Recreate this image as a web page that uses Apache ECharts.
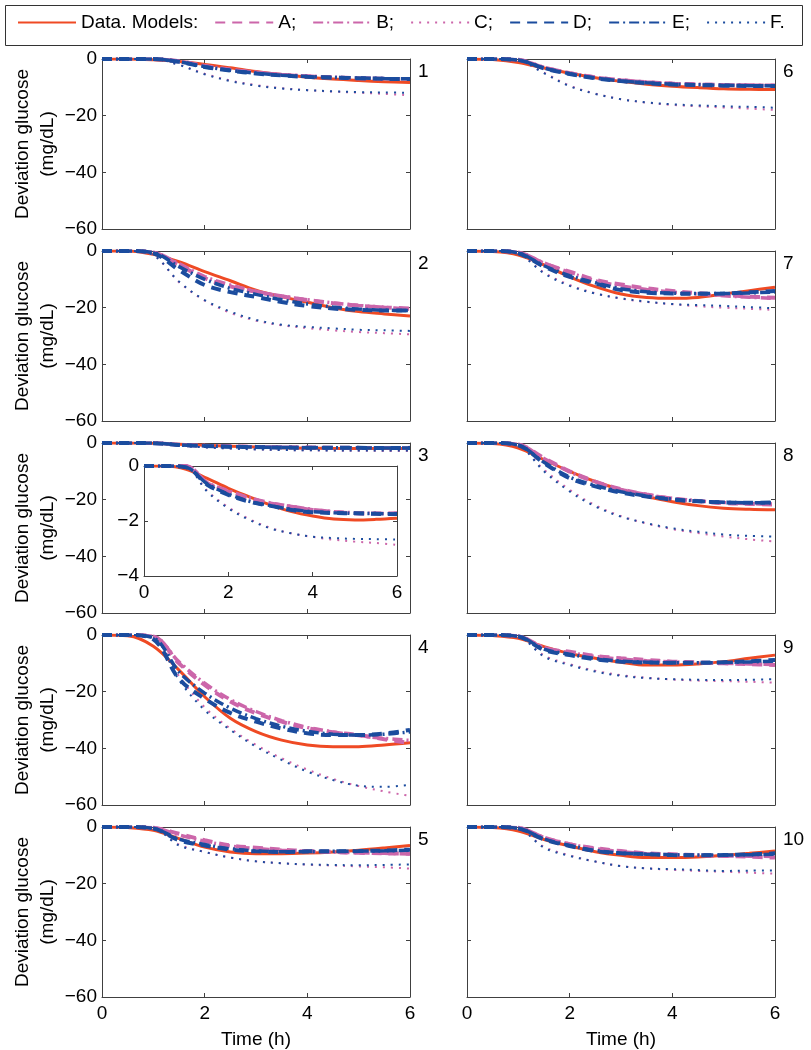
<!DOCTYPE html>
<html>
<head>
<meta charset="utf-8">
<script src="https://cdn.jsdelivr.net/npm/echarts@6/dist/echarts.min.js"></script>
<style>
  html, body { margin: 0; padding: 0; background: #fff; }
  #chart { width: 811px; height: 1050px; }
</style>
</head>
<body>
<div id="chart"></div>
<script>
// time samples (h)
const timeH = [0, 0.5, 1, 1.5, 2, 2.5, 3, 3.5, 4, 4.5, 5, 5.5, 6];

// glucose deviation (mg/dL), one row per panel 1..10
const dataCurves = [
  [0, 0, -0.3, -0.9, -1.9, -3.1, -4.4, -5.5, -6.4, -7.1, -7.6, -8, -8.3],
  [0, 0, -1.2, -3.8, -7.3, -10.5, -13.8, -16.1, -18.1, -20, -21.4, -22.2, -22.9],
  [0, 0, -0.12, -0.45, -0.81, -1.12, -1.42, -1.66, -1.82, -1.93, -1.96, -1.94, -1.9],
  [0, -0.3, -4, -12.4, -21.8, -29.4, -34.1, -37.1, -38.8, -39.4, -39.4, -38.8, -38],
  [0, -0.2, -1.2, -4.1, -7.1, -8.8, -9.4, -9.4, -9.2, -8.8, -8.2, -7.4, -6.5],
  [0, -0.2, -1.2, -3.2, -5, -6.6, -7.9, -8.9, -9.6, -10.1, -10.5, -10.7, -10.8],
  [0, -0.2, -1.4, -4.9, -9.1, -12.6, -15.2, -16.4, -16.7, -16.4, -15.2, -14, -12.8],
  [0, -0.2, -1.8, -5.9, -10, -13.6, -16.5, -18.9, -20.7, -22.1, -23, -23.4, -23.6],
  [0, -0.2, -1.2, -4.1, -6.5, -8.2, -9.6, -10.6, -10.6, -10.2, -9.4, -8.2, -7.1],
  [0, -0.2, -1.4, -4.4, -6.7, -8.7, -10, -10.8, -10.8, -10.6, -10, -9.3, -8.5]
];
const modelA = [
  [0, 0, 0, -0.8, -2.5, -3.8, -4.8, -5.6, -6.1, -6.5, -6.8, -7, -7.1],
  [0, 0, -0.5, -4.9, -9.6, -12.5, -14.4, -16, -17.3, -18.4, -19.3, -19.9, -20.3],
  [0, 0, 0, -0.63, -0.93, -1.18, -1.36, -1.48, -1.6, -1.67, -1.72, -1.73, -1.72],
  [0, 0, -0.5, -10, -17.6, -23.5, -27.6, -30.6, -32.9, -34.3, -35.3, -36.8, -38.2],
  [0, 0, -0.3, -2.4, -4.7, -6.5, -7.3, -8, -8.5, -8.8, -9.1, -9.3, -9.4],
  [0, 0, -0.3, -3, -5, -6.5, -7.5, -8.2, -8.7, -9, -9.2, -9.3, -9.4],
  [0, 0, -0.5, -4.4, -7.3, -10.2, -11.8, -13.2, -14.1, -14.9, -15.5, -16.1, -16.5],
  [0, 0, -0.5, -5.3, -10, -13.6, -16.3, -18.2, -19.6, -20.5, -21.2, -21.5, -21.7],
  [0, 0, -0.4, -4.7, -5.9, -7.4, -8.2, -8.8, -9.4, -9.7, -10, -10.3, -10.6],
  [0, 0, -0.3, -3.8, -6.1, -7.5, -8.5, -9.3, -9.6, -9.9, -10.2, -10.5, -10.8]
];
const modelB = [
  [0, 0, 0, -0.8, -2.4, -3.7, -4.7, -5.5, -6, -6.4, -6.7, -6.9, -7],
  [0, 0, -0.5, -4.5, -9, -12, -14.2, -15.9, -17.2, -18.3, -19.2, -19.9, -20.5],
  [0, 0, 0, -0.6, -0.9, -1.15, -1.34, -1.47, -1.58, -1.66, -1.7, -1.72, -1.73],
  [0, 0, -0.5, -9.5, -17, -22.8, -27, -30.2, -32.6, -34.2, -35.5, -36.5, -37.2],
  [0, 0, -0.3, -2.8, -5, -6.7, -7.6, -8.2, -8.6, -8.9, -9.1, -9.3, -9.5],
  [0, 0, -0.3, -2.9, -4.9, -6.4, -7.4, -8.1, -8.6, -8.9, -9.1, -9.2, -9.3],
  [0, 0, -0.5, -4.2, -7.6, -10.5, -12.3, -13.6, -14.5, -15.2, -15.8, -16.3, -16.7],
  [0, 0, -0.5, -5.5, -10.2, -13.8, -16.4, -18.2, -19.5, -20.4, -21, -21.4, -21.6],
  [0, 0, -0.4, -4.4, -6.2, -7.6, -8.5, -9.1, -9.5, -9.8, -10, -10.2, -10.4],
  [0, 0, -0.3, -3.6, -6, -7.6, -8.7, -9.4, -9.8, -10, -10.2, -10.3, -10.4]
];
const modelC = [
  [0, 0, 0, -2, -5.2, -7.6, -9.2, -10.3, -11, -11.5, -11.9, -12.3, -12.8],
  [0, 0, -1.5, -11, -17.5, -21.8, -24.6, -26.2, -27.2, -28, -28.6, -29, -29.4],
  [0, 0, -0.05, -0.9, -1.5, -1.93, -2.25, -2.45, -2.58, -2.68, -2.75, -2.8, -2.87],
  [0, 0, -1, -14.5, -25.5, -33, -38.8, -43.5, -47.5, -50.8, -53.3, -55.2, -56.8],
  [0, 0, -0.5, -6.2, -8.8, -10.8, -12.1, -12.8, -13.3, -13.6, -13.9, -14.2, -14.7],
  [0, 0, -0.5, -4.8, -9.4, -12.2, -14.2, -15.4, -16.2, -16.7, -17.1, -17.5, -18],
  [0, 0, -1, -7.6, -12, -14.9, -16.8, -18, -18.8, -19.5, -20, -20.4, -20.8],
  [0, 0, -1, -9.4, -16.5, -22, -25.8, -28.4, -30.4, -31.8, -33, -34, -34.8],
  [0, 0, -0.6, -7.2, -10.3, -12.6, -14.2, -15.1, -15.7, -16.1, -16.3, -16.5, -16.8],
  [0, 0, -0.6, -7, -10, -12.2, -13.8, -14.6, -15.1, -15.5, -15.8, -16.1, -16.5]
];
const modelD = [
  [0, 0, 0, -1, -2.8, -4.1, -5.1, -5.8, -6.3, -6.6, -6.8, -7, -7.1],
  [0, 0, -0.8, -6.7, -12, -14.5, -16.2, -18, -19.4, -20.3, -20.8, -21, -21],
  [0, 0, -0.05, -0.68, -1.05, -1.3, -1.45, -1.6, -1.68, -1.71, -1.72, -1.74, -1.75],
  [0, 0, -1.5, -15.5, -22.5, -27.5, -30.6, -33, -34.7, -35.3, -35.3, -34.8, -33.5],
  [0, 0, -0.5, -4.7, -6.5, -8, -8.6, -8.8, -8.6, -8.6, -8.5, -8.3, -8],
  [0, 0, -0.4, -3.3, -5.3, -6.8, -7.8, -8.5, -9, -9.2, -9.4, -9.5, -9.5],
  [0, 0, -0.8, -5.5, -9.1, -11.5, -13.8, -14.7, -15, -15.1, -15, -14.6, -14.1],
  [0, 0, -0.8, -7.1, -12.4, -15.3, -17.5, -18.9, -20, -20.6, -21, -21.1, -21],
  [0, 0, -0.5, -5.3, -7.1, -8.6, -9.4, -9.7, -9.8, -9.8, -9.6, -9.3, -8.8],
  [0, 0, -0.5, -4.4, -6.7, -8.5, -9.3, -9.6, -9.9, -10, -9.9, -9.7, -9.3]
];
const modelE = [
  [0, 0, 0, -1, -2.7, -4, -5, -5.7, -6.2, -6.5, -6.7, -6.9, -7],
  [0, 0, -0.6, -5.5, -10, -13.2, -15.3, -17.2, -18.7, -19.8, -20.5, -20.9, -21],
  [0, 0, -0.05, -0.65, -1.02, -1.28, -1.44, -1.58, -1.66, -1.7, -1.72, -1.73, -1.74],
  [0, 0, -1, -13, -20.5, -25.8, -29.5, -32.2, -34, -35, -35.3, -35, -34.2],
  [0, 0, -0.5, -4.3, -6.2, -7.7, -8.4, -8.7, -8.7, -8.6, -8.5, -8.4, -8.2],
  [0, 0, -0.4, -3.2, -5.2, -6.7, -7.7, -8.4, -8.9, -9.1, -9.3, -9.4, -9.5],
  [0, 0, -0.7, -5.2, -8.7, -11.2, -13.3, -14.4, -14.9, -15, -15, -14.8, -14.5],
  [0, 0, -0.8, -6.8, -12, -15, -17.2, -18.7, -19.8, -20.5, -20.9, -21.1, -21.1],
  [0, 0, -0.5, -5, -6.8, -8.3, -9.2, -9.6, -9.8, -9.8, -9.7, -9.5, -9.2],
  [0, 0, -0.5, -4.2, -6.5, -8.3, -9.2, -9.6, -9.8, -9.9, -9.9, -9.8, -9.6]
];
const modelF = [
  [0, 0, 0, -2.1, -5.4, -7.8, -9.4, -10.4, -11, -11.4, -11.7, -11.8, -11.9],
  [0, 0, -1.5, -10.8, -17.3, -21.4, -24.3, -26, -26.8, -27.3, -27.8, -28, -28.2],
  [0, 0, -0.05, -0.93, -1.54, -1.96, -2.27, -2.45, -2.57, -2.62, -2.65, -2.66, -2.67],
  [0, 0, -1, -15.9, -26.5, -33.5, -39.4, -44.1, -48.2, -51.2, -53.2, -53.6, -52.9],
  [0, 0, -0.5, -6.5, -8.8, -10.8, -12.1, -12.8, -13.2, -13.4, -13.5, -13.4, -13.2],
  [0, 0, -0.5, -5, -9.6, -12.3, -14.2, -15.3, -16, -16.4, -16.7, -16.9, -17.2],
  [0, 0, -1, -7.9, -12.3, -15, -16.7, -17.9, -18.7, -19.1, -19.4, -19.8, -20.2],
  [0, 0, -1, -10, -17.1, -22.4, -26, -28.3, -30.1, -31.3, -32.3, -32.8, -33],
  [0, 0, -0.6, -7.6, -10.6, -12.9, -14.4, -15.2, -15.6, -15.8, -15.9, -15.8, -15.6],
  [0, 0, -0.6, -7.3, -10.2, -12.2, -13.8, -14.6, -14.9, -15.2, -15.5, -15.4, -15.3]
];

const seriesNames = ['Data. Models:', 'A;', 'B;', 'C;', 'D;', 'E;', 'F.'];
const panelLabels = ['1', '2', '3', '4', '5', '6', '7', '8', '9', '10'];
const insetPanel = 2; // panel 3 is zoomed in the inset

const curveSets = [dataCurves, modelA, modelB, modelC, modelD, modelE, modelF];

const RED = '#EF4A24', PINK = '#CC66AA', BLUE = '#1B4C9E';
const lineStyles = [
  { color: RED, width: 3, type: 'solid' },
  { color: PINK, width: 4, type: [10, 7] },
  { color: PINK, width: 3.5, type: [10, 4, 2, 4] },
  { color: PINK, width: 2, type: [2, 6] },
  { color: BLUE, width: 4, type: [10, 7] },
  { color: BLUE, width: 3.5, type: [10, 4, 2, 4] },
  { color: BLUE, width: 2, type: [2, 6] }
];

const FONT = 'Liberation Sans';
const AXIS_COLOR = '#404040';
const minus = (v) => String(v).replace('-', '\u2212');

const colLeft = [102, 467];
const colWidth = 308;
const rowTop = [59, 251, 443, 635, 827];
const rowHeight = 170;

const grid = [], xAxis = [], yAxis = [], series = [], graphic = [];

function addAxes(g, opt) {
  const line = { show: true, onZero: false, lineStyle: { color: AXIS_COLOR, width: 1 } };
  const tick = { show: true, inside: true, length: 4, lineStyle: { color: AXIS_COLOR } };
  const label = { fontSize: 19, color: '#000', fontFamily: FONT, showMinLabel: true, showMaxLabel: true };
  xAxis.push({
    gridIndex: g, type: 'value', position: 'bottom', min: 0, max: 6, interval: 2,
    axisLine: line, axisTick: tick, splitLine: { show: false },
    axisLabel: Object.assign({ show: opt.xLabels, margin: 7 }, label),
    name: opt.xName || '', nameLocation: 'middle', nameGap: 33,
    nameTextStyle: { fontSize: 19, color: '#000', fontFamily: FONT }
  });
  xAxis.push({
    gridIndex: g, type: 'value', position: 'top', min: 0, max: 6, interval: 2,
    axisLine: line, axisTick: tick, splitLine: { show: false }, axisLabel: { show: false }
  });
  yAxis.push({
    gridIndex: g, type: 'value', position: 'left', min: opt.yMin, max: 0, interval: opt.yStep,
    axisLine: line, axisTick: tick, splitLine: { show: false },
    axisLabel: Object.assign({ show: opt.yLabels, margin: 5, formatter: minus }, label),
    name: opt.yName || '', nameLocation: 'middle', nameGap: 42,
    nameTextStyle: { fontSize: 19, color: '#000', fontFamily: FONT, lineHeight: 25 }
  });
  yAxis.push({
    gridIndex: g, type: 'value', position: 'right', min: opt.yMin, max: 0, interval: opt.yStep,
    axisLine: line, axisTick: tick, splitLine: { show: false }, axisLabel: { show: false }
  });
}

function addSeries(g, panel, z) {
  curveSets.forEach((set, k) => {
    series.push({
      name: seriesNames[k], type: 'line', xAxisIndex: 2 * g, yAxisIndex: 2 * g,
      data: timeH.map((t, i) => [t, set[panel][i]]),
      symbol: 'none', smooth: 0.35, lineStyle: lineStyles[k], color: lineStyles[k].color,
      silent: true, z: z
    });
  });
}

for (let p = 0; p < 10; p++) {
  const col = p < 5 ? 0 : 1;
  const row = p % 5;
  grid.push({ left: colLeft[col], top: rowTop[row], width: colWidth, height: rowHeight, outerBoundsMode: 'none' });
  addAxes(p, {
    yMin: -60, yStep: 20,
    xLabels: row === 4, xName: row === 4 ? 'Time (h)' : '',
    yLabels: col === 0, yName: col === 0 ? 'Deviation glucose\n(mg/dL)' : ''
  });
  addSeries(p, p, 2);
  graphic.push({
    type: 'text', left: colLeft[col] + colWidth + 8, top: rowTop[row] + 3,
    style: { text: panelLabels[p], fontSize: 19, fontFamily: FONT, fill: '#000' }
  });
}

// inset of panel 3
grid.push({ left: 144, top: 466, width: 253, height: 110, outerBoundsMode: 'none' });
addAxes(10, { yMin: -4, yStep: 2, xLabels: true, yLabels: true });
addSeries(10, insetPanel, 3);

// legend box
graphic.push({
  type: 'rect', left: 3, top: 3,
  shape: { width: 797, height: 40 },
  style: { fill: 'none', stroke: '#333', lineWidth: 1 }, z: 0
});

const chart = echarts.init(document.getElementById('chart'), null, { renderer: 'canvas' });
chart.setOption({
  animation: false,
  backgroundColor: '#fff',
  textStyle: { fontFamily: FONT, color: '#000' },
  legend: {
    data: seriesNames, left: 17, top: 13, padding: 0,
    itemWidth: 58, itemHeight: 14, itemGap: 16,
    itemStyle: { opacity: 0, borderWidth: 0 },
    textStyle: { fontSize: 19, color: '#000', fontFamily: FONT },
    selectedMode: false, z: 10
  },
  tooltip: { show: false },
  grid: grid,
  xAxis: xAxis,
  yAxis: yAxis,
  series: series,
  graphic: graphic
});
</script>
</body>
</html>
